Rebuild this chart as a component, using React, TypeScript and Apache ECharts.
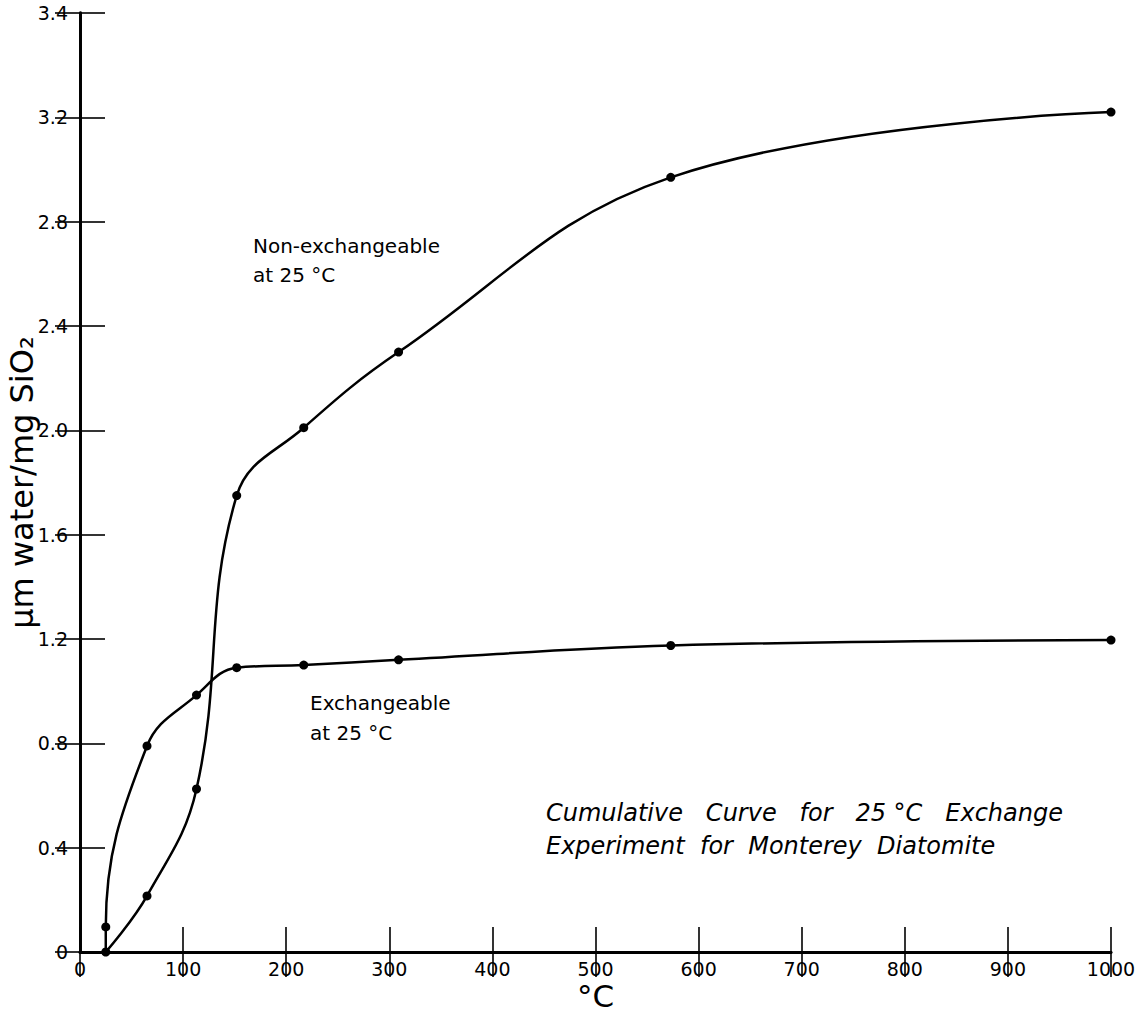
import React, { useEffect, useRef } from "react";
import * as echarts from "echarts";

// Non-exchangeable at 25 °C
const nonExchTemps = [25, 65, 113, 152, 217, 309, 573, 1000];
const nonExchValues = [0, 0.215, 0.625, 1.75, 2.01, 2.3, 2.97, 3.22];

// Exchangeable at 25 °C (curve starts at the origin point, then rises)
const exchTemps = [25, 25, 65, 113, 152, 217, 309, 573, 1000];
const exchValues = [0, 0.096, 0.79, 0.985, 1.09, 1.1, 1.12, 1.175, 1.196];

const yTickLabels = ["0", "0.4", "0.8", "1.2", "1.6", "2.0", "2.4", "2.8", "3.2", "3.4"];
const xTickLabels = ["0", "100", "200", "300", "400", "500", "600", "700", "800", "900", "1000"];

const FONT = "DejaVu Sans";
const S2 = "\u00a0\u00a0";
const S3 = "\u00a0\u00a0\u00a0";

export default function App() {
  const ref = useRef<HTMLDivElement>(null);

  useEffect(() => {
    if (!ref.current) return;
    const chart = echarts.init(ref.current, undefined, { renderer: "svg" });

    const nonExchData = nonExchTemps.map((t, i) => [t, nonExchValues[i]]);
    const exchData = exchTemps.map((t, i) =>
      i === 0 ? { value: [t, exchValues[i]], symbol: "none" } : [t, exchValues[i]]
    );

    const axisLine = { show: true, lineStyle: { color: "#000", width: 2.8 } };
    const tick = { show: true, inside: true, length: 25, lineStyle: { color: "#000", width: 1.6 } };

    chart.setOption({
      animation: false,
      backgroundColor: "#fff",
      grid: {
        left: 80,
        right: 28,
        top: 13,
        bottom: 60,
        containLabel: false,
        outerBoundsMode: "none",
      },
      xAxis: [
        {
          type: "value",
          min: 0,
          max: 1000,
          interval: 100,
          position: "bottom",
          axisLine,
          axisTick: tick,
          splitLine: { show: false },
          axisLabel: {
            color: "#000",
            fontSize: 19,
            fontFamily: FONT,
            margin: 7,
            formatter: (v: number) => xTickLabels[Math.round(v / 100)] ?? "",
          },
          name: "°C",
          nameLocation: "middle",
          nameGap: 28,
          nameMoveOverlap: false,
          nameTextStyle: {
            color: "#000",
            fontSize: 31,
            fontFamily: FONT,
            verticalAlign: "top",
          },
        },
        {
          type: "value",
          min: 0,
          max: 1000,
          interval: 100,
          position: "top",
          axisLine,
          axisTick: tick,
          splitLine: { show: false },
          axisLabel: { show: false },
        },
      ],
      yAxis: [
        {
          type: "value",
          min: 0,
          max: 3.6,
          interval: 0.4,
          position: "left",
          axisLine,
          axisTick: tick,
          splitLine: { show: false },
          axisLabel: {
            color: "#000",
            fontSize: 19,
            fontFamily: FONT,
            margin: 12,
            formatter: (v: number) => yTickLabels[Math.round(v / 0.4)] ?? "",
          },
          name: "μm water/mg SiO₂",
          nameLocation: "middle",
          nameGap: 42,
          nameMoveOverlap: false,
          nameRotate: 90,
          nameTextStyle: { color: "#000", fontSize: 32, fontFamily: FONT },
        },
        {
          type: "value",
          min: 0,
          max: 3.6,
          interval: 0.4,
          position: "right",
          axisLine,
          axisTick: tick,
          splitLine: { show: false },
          axisLabel: { show: false },
        },
      ],
      series: [
        {
          name: "Non-exchangeable at 25 °C",
          type: "line",
          data: nonExchData,
          smooth: 0.4,
          symbol: "circle",
          symbolSize: 9,
          itemStyle: { color: "#000" },
          lineStyle: { color: "#000", width: 2.5 },
          z: 3,
        },
        {
          name: "Exchangeable at 25 °C",
          type: "line",
          data: exchData,
          smooth: 0.4,
          symbol: "circle",
          symbolSize: 9,
          itemStyle: { color: "#000" },
          lineStyle: { color: "#000", width: 2.5 },
          z: 3,
        },
      ],
      graphic: [
        {
          type: "text",
          left: 253,
          top: 231,
          style: {
            text: "Non-exchangeable\nat 25 °C",
            fill: "#000",
            font: `20px "${FONT}"`,
            lineHeight: 29,
          },
        },
        {
          type: "text",
          left: 310,
          top: 688,
          style: {
            text: "Exchangeable\nat 25 °C",
            fill: "#000",
            font: `20px "${FONT}"`,
            lineHeight: 30,
          },
        },
        {
          type: "text",
          left: 546,
          top: 796,
          style: {
            text: `Cumulative${S3}Curve${S3}for${S3}25 °C${S3}Exchange\nExperiment${S2}for${S2}Monterey${S2}Diatomite`,
            fill: "#000",
            font: `italic 24px "${FONT}"`,
            lineHeight: 33,
          },
        },
      ],
    });

    return () => chart.dispose();
  }, []);

  return (
    <div
      ref={ref}
      style={{ position: "absolute", left: 0, top: 0, width: 1139, height: 1012 }}
    />
  );
}
